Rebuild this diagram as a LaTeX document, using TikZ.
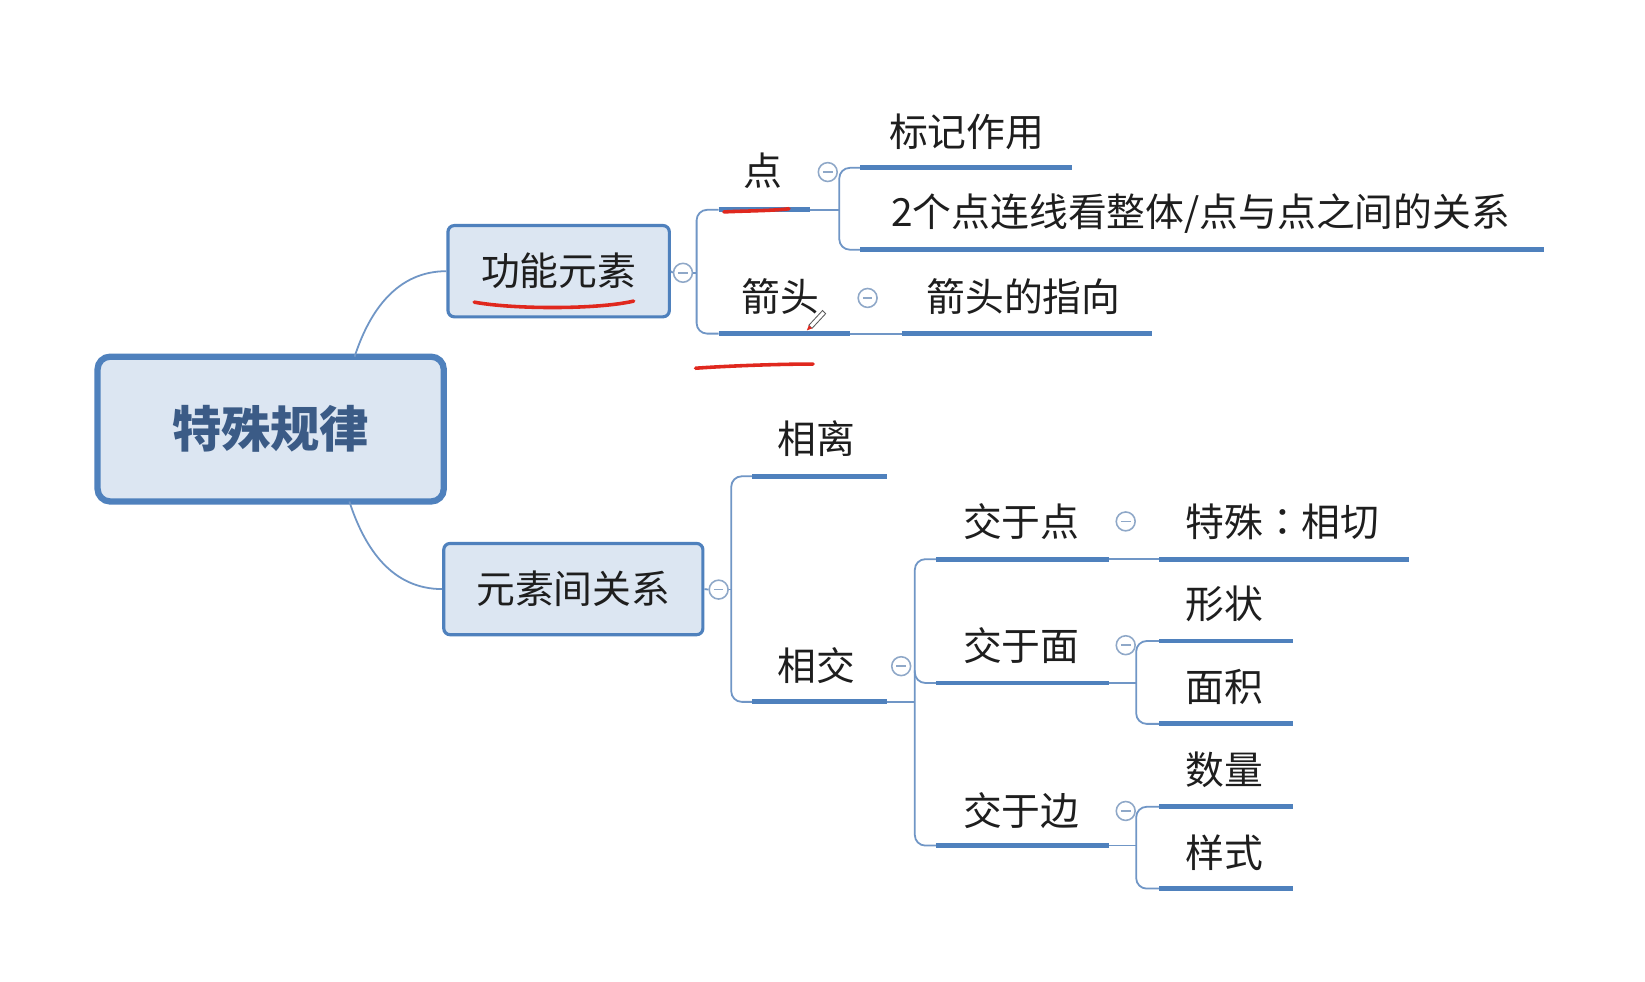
\documentclass[tikz,border=0pt]{standalone}
\usepackage{fontspec}
\setmainfont{Noto Sans CJK SC}
\newfontfamily\tcfont{Noto Sans CJK TC}
\usetikzlibrary{calc}
\definecolor{lineblue}{HTML}{4F81BD}
\definecolor{thinblue}{HTML}{7096C6}
\definecolor{nodefill}{HTML}{DCE6F2}
\definecolor{centertext}{HTML}{3B5B86}
\definecolor{textc}{HTML}{1E1E1E}
\definecolor{togc}{HTML}{8FA8C8}
\definecolor{redmark}{HTML}{E0281E}
\tikzset{
  ul/.style={draw=lineblue, line width=2.3pt},
  thinln/.style={draw=thinblue, line width=0.85pt},
  lbl/.style={font=\fontsize{18.5}{20}\selectfont, text=textc, inner sep=0pt},
  tog/.style={circle, draw=togc, fill=white, minimum size=9pt, inner sep=0pt, line width=0.75pt,
    path picture={\draw[togc, line width=0.75pt] ([xshift=-2.3pt]path picture bounding box.center) -- ([xshift=2.3pt]path picture bounding box.center);}},
  subnode/.style={draw=lineblue, fill=nodefill, line width=1.5pt, rounded corners=3pt, inner sep=0pt,
    font=\fontsize{18.5}{20}\selectfont, text=textc},
  redpen/.style={draw=redmark, line width=1.7pt, line cap=round}
}
\begin{document}
\begin{tikzpicture}[x=0.5pt,y=-0.5pt]
\useasboundingbox[fill=white] (0,0) rectangle (1568,936);

% central node
\node[draw=lineblue, fill=nodefill, line width=3pt, rounded corners=6pt, minimum width=165pt, minimum height=69pt,
  font=\fontsize{23.5}{25}\selectfont\bfseries, text=centertext] (c) at (258,409) {特殊规律};
\node[subnode, minimum width=105.5pt, minimum height=43.5pt] (f) at (532.5,258.5) {功能元素};
\node[subnode, minimum width=123.5pt, minimum height=43.5pt] (r) at (546.5,561.5) {元素间关系};

\coordinate (ct) at (338,340);
\coordinate (cb) at (333,478);
\draw[thinln] (ct) to[out=72,in=180] (f.west);
\draw[thinln] (cb) to[out=-72,in=180] (r.west);

% ---------- top branch ----------
\node[tog] (t1) at (651,260) {};
\coordinate (v1) at (664,260);
\draw[thinln] (f.east) -- (t1.west);
\draw[thinln] (t1.east) -- (v1);

\coordinate (dianA) at (685,200); \coordinate (dianB) at (772,200);
\coordinate (jtA) at (685,318); \coordinate (jtB) at (810,318);
\draw[thinln, rounded corners=5pt] (dianA) -| (v1) |- (jtA);
\draw[ul] (dianA) -- (dianB);
\draw[ul] (jtA) -- (jtB);
\node[lbl] (dian) at (727,163) {点};
\node[lbl] (jt) at (744,283) {箭头};
\node[tog] (t2) at (789,164) {};
\node[tog] (t3) at (827,284) {};

\coordinate (v2) at (800,200);
\coordinate (bjA) at (820,160); \coordinate (bjB) at (1022,160);
\coordinate (zhA) at (820,238); \coordinate (zhB) at (1472,238);
\draw[thinln] (dianB) -- (v2);
\draw[thinln, rounded corners=5pt] (bjA) -| (v2) |- (zhA);
\draw[ul] (bjA) -- (bjB);
\draw[ul] (zhA) -- (zhB);
\node[lbl] (bj) at (921.5,126) {标记作用};
\node[lbl] (zh) at (1144.5,204) {2个点连线看整体/点与点之间的关系};

\coordinate (zxA) at (860,318); \coordinate (zxB) at (1098,318);
\draw[thinln] (jtB) -- (zxA);
\draw[ul] (zxA) -- (zxB);
\node[lbl] (zx) at (975.5,283) {箭头的指向};

% ---------- bottom branch ----------
\node[tog] (t4) at (685,562) {};
\coordinate (v3) at (697,562);
\draw[thinln] (r.east) -- (t4.west);
\draw[thinln] (t4.east) -- (v3);
\coordinate (xlA) at (717,454); \coordinate (xlB) at (845,454);
\coordinate (xjA) at (717,669); \coordinate (xjB) at (845,669);
\draw[thinln, rounded corners=5pt] (xlA) -| (v3) |- (xjA);
\draw[ul] (xlA) -- (xlB);
\draw[ul] (xjA) -- (xjB);
\node[lbl] (xl) at (778.5,418) {相离};
\node[lbl] (xj) at (778.5,634) {相交};
\node[tog] (t5) at (859,635) {};

\coordinate (v4) at (872,669);
\coordinate (dA) at (892,533); \coordinate (dB) at (1057,533);
\coordinate (mA) at (892,651); \coordinate (mB) at (1057,651);
\coordinate (eA) at (892,806); \coordinate (eB) at (1057,806);
\draw[thinln] (xjB) -- (v4);
\draw[thinln, rounded corners=5pt] (dA) -| (v4) |- (eA);
\draw[thinln, rounded corners=5pt] ($(v4 |- mA)+(0,-12)$) |- (mA);
\draw[ul] (dA) -- (dB);
\draw[ul] (mA) -- (mB);
\draw[ul] (eA) -- (eB);
\node[lbl] (jd) at (973.5,497) {交于点};
\node[lbl] (jm) at (973.5,615) {交于面};
\node[lbl] (je) at (973.5,773) {交于边};
\node[tog] (t6) at (1073,497) {};
\node[tog] (t7) at (1073,615) {};
\node[tog] (t8) at (1073,773) {};

\coordinate (tsA) at (1105,533); \coordinate (tsB) at (1343,533);
\draw[thinln] (dB) -- (tsA);
\draw[ul] (tsA) -- (tsB);
\node[lbl] (ts) at (1222.5,497) {特殊{\tcfont ：}相切};

\coordinate (v5) at (1083,651);
\coordinate (xzA) at (1105,611); \coordinate (xzB) at (1232,611);
\coordinate (mjA) at (1105,690); \coordinate (mjB) at (1232,690);
\draw[thinln] (mB) -- (v5);
\draw[thinln, rounded corners=5pt] (xzA) -| (v5) |- (mjA);
\draw[ul] (xzA) -- (xzB);
\draw[ul] (mjA) -- (mjB);
\node[lbl] (xz) at (1167,576) {形状};
\node[lbl] (mj) at (1167,655) {面积};

\coordinate (v6) at (1083,806);
\coordinate (slA) at (1105,769); \coordinate (slB) at (1232,769);
\coordinate (ysA) at (1105,847); \coordinate (ysB) at (1232,847);
\draw[thinln] (eB) -- (v6);
\draw[thinln, rounded corners=5pt] (slA) -| (v6) |- (ysA);
\draw[ul] (slA) -- (slB);
\draw[ul] (ysA) -- (ysB);
\node[lbl] (sl) at (1167,734) {数量};
\node[lbl] (ys) at (1167,813) {样式};

% ---------- red pen marks ----------
\draw[redpen] (452,288) .. controls (490,295) and (570,295) .. (604,287);
\draw[redpen] (690,202) .. controls (710,201) and (735,201) .. (752,199);
\draw[redpen] (663,351) .. controls (690,349) and (740,347) .. (775,347);

% ---------- pen cursor ----------
\draw[fill=white, draw=gray!70!black, line width=0.4pt] (771,310) -- (784,296) -- (787,299) -- (774,313) -- cycle;
\fill[redmark] (769,315) -- (771,310) -- (774,313) -- cycle;
\end{tikzpicture}
\end{document}
